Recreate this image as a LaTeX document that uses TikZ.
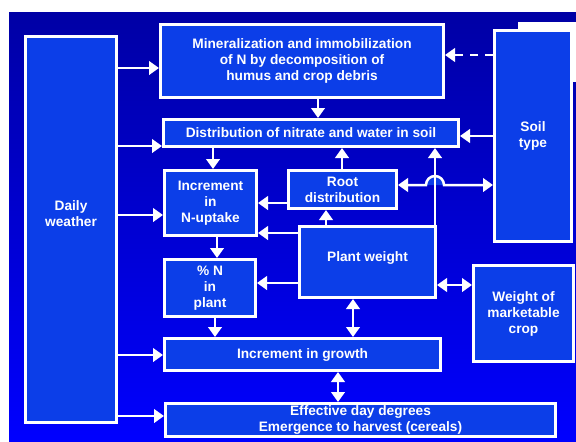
\documentclass[tikz,border=0pt]{standalone}
\usepackage{fontspec}
\setmainfont{Liberation Sans}
\usetikzlibrary{arrows.meta}
\definecolor{bgtop}{RGB}{0,0,165}
\definecolor{bgbot}{RGB}{0,0,255}
\definecolor{boxfill}{RGB}{12,62,232}
\tikzset{
  box/.style={draw=white, line width=3pt, fill=boxfill, text=white,
    font=\bfseries\fontsize{13.7}{16}\selectfont, align=center, inner sep=0pt},
  lbl/.style={text=white, font=\bfseries\fontsize{13.7}{16}\selectfont, align=center, inner sep=0pt},
  arr/.style={draw=white, line width=2.5pt, -{Triangle[length=10pt,width=13.5pt]}},
  darr/.style={draw=white, line width=2.5pt, {Triangle[length=10pt,width=13.5pt]}-{Triangle[length=10pt,width=13.5pt]}}
}
\begin{document}
\begin{tikzpicture}[x=1pt,y=-1pt]
\useasboundingbox (0,0) rectangle (576,442);
\fill[white] (0,0) rectangle (576,442);
\shade[top color=bgtop, bottom color=bgbot] (9,12) rectangle (576,442);
\fill[white] (518,22) rectangle (576,29);
\fill[white] (573,22) rectangle (576,82);

\node[box, minimum width=91, minimum height=386] (daily) at (71,229.5) {};
\node[lbl] (dailytxt) at (71,214) {Daily\\weather};
\node[box, minimum width=283, minimum height=73] (mineral) at (302,61) {Mineralization and immobilization\\of N by decomposition of\\humus and crop debris};
\node[box, minimum width=295, minimum height=27] (distr) at (311,133) {Distribution of nitrate and water in soil};
\node[box, minimum width=92, minimum height=65] (incN) at (210.5,203) {Increment\\in\\N-uptake};
\node[box, minimum width=108, minimum height=38] (root) at (342.5,189.5) {Root\\distribution};
\node[box, minimum width=136, minimum height=71] (plant) at (367.5,262) {};
\node[lbl] (planttxt) at (367.5,258) {Plant weight};
\node[box, minimum width=91, minimum height=57] (pctN) at (210,288) {\%~N\\in\\plant};
\node[box, minimum width=276, minimum height=32] (growth) at (302.5,354.5) {Increment in growth};
\node[box, minimum width=390, minimum height=33] (eff) at (360.5,420) {Effective day degrees\\Emergence to harvest (cereals)};
\node[box, minimum width=77, minimum height=211] (soil) at (533,136) {Soil\\type};
\node[box, minimum width=100, minimum height=96] (weight) at (523.5,313.5) {Weight of\\marketable\\crop};

\draw[arr] (daily.east |- 0,68) -- (mineral.west |- 0,68);
\draw[arr] (daily.east |- 0,146) -- (distr.west |- 0,146);
\draw[arr] (daily.east |- 0,215) -- (incN.west |- 0,215);
\draw[arr] (daily.east |- 0,355) -- (growth.west |- 0,355);
\draw[arr] (daily.east |- 0,416) -- (eff.west |- 0,416);
\draw[arr] (mineral.south -| 318,0) -- (distr.north -| 318,0);
\draw[arr, dash pattern=on 8pt off 7pt] (soil.west |- 0,55) -- (mineral.east |- 0,55);
\draw[arr] (soil.west |- 0,136) -- (distr.east |- 0,136);
\draw[arr] (distr.south -| 213,0) -- (incN.north -| 213,0);
\draw[arr] (root.north -| 342,0) -- (distr.south -| 342,0);
\draw[arr] (root.west |- 0,203) -- (incN.east |- 0,203);
\draw[arr] (plant.north -| 326,0) -- (root.south -| 326,0);
\draw[arr] (plant.west |- 0,233) -- (incN.east |- 0,233);
\fill[boxfill] (426,185) arc[start angle=180, end angle=360, radius=9] -- cycle;
\draw[arr] (plant.north -| 435,0) -- (distr.south -| 435,0);
\coordinate (jl) at (426,185);
\draw[darr] (root.east |- 0,185) -- (jl) arc[start angle=180, end angle=360, radius=9] -- (soil.west |- 0,185);
\draw[arr] (incN.south -| 217,0) -- (pctN.north -| 217,0);
\draw[arr] (plant.west |- 0,283) -- (pctN.east |- 0,283);
\draw[arr] (pctN.south -| 215,0) -- (growth.north -| 215,0);
\draw[darr] (plant.south -| 353,0) -- (growth.north -| 353,0);
\draw[darr] (plant.east |- 0,285) -- (weight.west |- 0,285);
\draw[darr] (growth.south -| 338,0) -- (eff.north -| 338,0);
\end{tikzpicture}
\end{document}
